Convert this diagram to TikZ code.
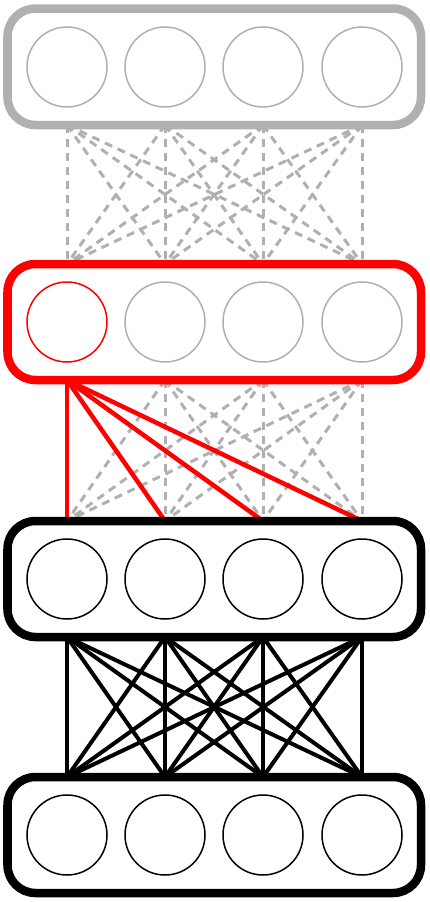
\documentclass[tikz,border=0pt]{standalone}
\begin{document}
\begin{tikzpicture}[x=1bp,y=-1bp,
  layerbox/.style={line width=8.5bp, rounded corners=28bp, fill=white},
  unit/.style={circle, minimum size=80bp, inner sep=0pt, line width=1.5bp},
  graylink/.style={draw=black!31, line width=3bp, dash pattern=on 8bp off 6bp},
  redlink/.style={draw=red, line width=4.5bp},
  blacklink/.style={draw=black, line width=4bp}]
\useasboundingbox (0,0) rectangle (429,902);
\def\xs{67,165,263,362}
% layer centre y: 67, 322, 579, 835 ; half height 58
\foreach \x [count=\i] in \xs {
  \coordinate (b1\i) at (\x,125);
  \coordinate (t2\i) at (\x,264);
  \coordinate (b2\i) at (\x,380);
  \coordinate (t3\i) at (\x,521);
  \coordinate (b3\i) at (\x,637);
  \coordinate (t4\i) at (\x,777);
}
% links
\foreach \i in {1,...,4} \foreach \j in {1,...,4} {
  \draw[graylink] (b1\i) -- (t2\j);
  \draw[graylink] (b2\i) -- (t3\j);
  \draw[blacklink] (b3\i) -- (t4\j);
}
\foreach \j in {1,...,4} \draw[redlink] (b21) -- (t3\j);
% layers
\draw[layerbox, draw=black!31] (7.5,8.5) rectangle (421,125);
\draw[layerbox, draw=red] (7.5,264) rectangle (421,380);
\draw[layerbox, draw=black] (7.5,521) rectangle (421,637);
\draw[layerbox, draw=black] (7.5,777) rectangle (421,893);
% units
\foreach \x [count=\i] in \xs {
  \node[unit, draw=black!31] (u1\i) at (\x,67) {};
  \node[unit, draw=black] (u3\i) at (\x,579) {};
  \node[unit, draw=black] (u4\i) at (\x,835) {};
}
\node[unit, draw=red] (u21) at (67,322) {};
\foreach \x [count=\i from 2] in {165,263,362} \node[unit, draw=black!31] (u2\i) at (\x,322) {};
\end{tikzpicture}
\end{document}
